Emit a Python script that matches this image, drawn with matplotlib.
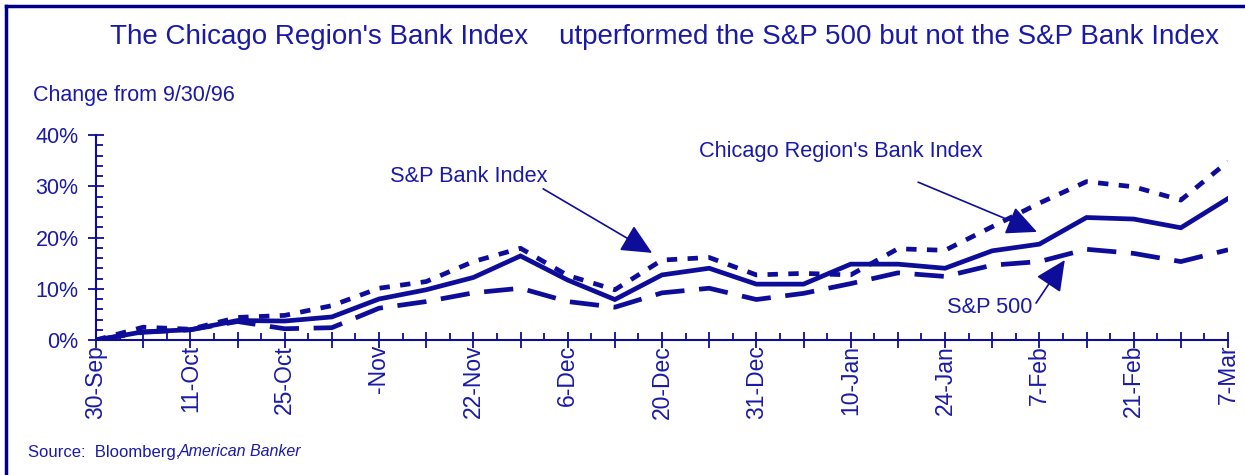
import numpy as np
import matplotlib.pyplot as plt
from matplotlib.ticker import FuncFormatter, MultipleLocator
from matplotlib.lines import Line2D

# weekly closes, change from 9/30/96 (percent)
dates = ['30-Sep', '', '11-Oct', '', '25-Oct', '', '-Nov', '', '22-Nov', '',
         '6-Dec', '', '20-Dec', '', '31-Dec', '', '10-Jan', '', '24-Jan', '',
         '7-Feb', '', '21-Feb', '', '7-Mar']
chicago = [0.0, 1.6, 2.0, 3.8, 3.7, 4.5, 8.0, 9.8, 12.2, 16.4, 11.7, 7.9, 12.7,
           14.0, 10.9, 10.9, 14.8, 14.8, 14.0, 17.4, 18.7, 23.9, 23.6, 21.9, 27.6]
sp_bank = [0.0, 2.5, 2.1, 4.4, 4.8, 6.7, 10.1, 11.4, 15.3, 17.9, 12.6, 9.8, 15.6,
           16.1, 12.7, 13.0, 12.7, 17.8, 17.5, 22.1, 26.7, 30.9, 29.9, 27.3, 34.8]
sp500 = [0.0, 1.5, 2.0, 3.6, 2.2, 2.4, 6.2, 7.5, 9.2, 10.1, 7.5, 6.4, 9.2,
         10.1, 7.9, 9.1, 11.0, 13.1, 12.4, 14.6, 15.3, 17.7, 16.9, 15.3, 17.6]

navy = '#0d0d99'
txt = '#1a1aa6'

plt.rcParams['font.family'] = ['Liberation Sans', 'DejaVu Sans']

fig = plt.figure(figsize=(12.45, 4.75), dpi=100)
ax = fig.add_axes([96 / 1245, 1 - 340 / 475, (1228 - 96) / 1245, 205 / 475])

x = np.arange(len(dates))
ax.plot(x, chicago, color=navy, lw=3.4, solid_joinstyle='miter')
ax.plot(x, sp_bank, color=navy, lw=3.4, dashes=(2.2, 2.2))
ax.plot(x, sp500, color=navy, lw=3.4, dashes=(6.2, 3.1))

ax.set_xlim(0, 24)
ax.set_ylim(0, 40)
ax.set_xticks(x)
ax.set_xticklabels(dates, rotation=90, fontsize=16.5, color=txt)
ax.xaxis.set_minor_locator(MultipleLocator(0.5))
ax.yaxis.set_major_locator(MultipleLocator(10))
ax.yaxis.set_minor_locator(MultipleLocator(2))
ax.yaxis.set_major_formatter(FuncFormatter(lambda v, p: f'{v:.0f}%'))
for lab in ax.get_yticklabels():
    lab.set_fontsize(15.5)
    lab.set_color(txt)

ax.tick_params(axis='x', which='major', direction='inout', length=11, width=1.3, color=navy, pad=-2)
ax.tick_params(axis='x', which='minor', direction='in', length=5, width=1.3, color=navy)
ax.tick_params(axis='y', which='major', direction='inout', length=11, width=1.3, color=navy, pad=7)
ax.tick_params(axis='y', which='minor', direction='in', length=5, width=1.3, color=navy)
for s in ['top', 'right']:
    ax.spines[s].set_visible(False)
for s in ['left', 'bottom']:
    ax.spines[s].set_color(navy)
    ax.spines[s].set_linewidth(1.5)
    ax.spines[s].set_clip_on(False)

# callout labels and their arrows
arrow = dict(arrowstyle='-|>,head_length=1.9,head_width=0.9', color=navy, lw=1.2,
             shrinkA=0, shrinkB=0)
ax.text(7.9, 32.0, 'S&P Bank Index', fontsize=15.7, color=txt, ha='center', va='center')
ax.annotate('', xy=(11.79, 17.0), xytext=(9.48, 29.5), arrowprops=arrow)
ax.text(15.8, 36.7, "Chicago Region's Bank Index", fontsize=15.7, color=txt,
        ha='center', va='center')
ax.annotate('', xy=(19.95, 21.1), xytext=(17.43, 30.8), arrowprops=arrow)
ax.text(18.95, 6.4, 'S&P 500', fontsize=15.7, color=txt, ha='center', va='center')
ax.annotate('', xy=(20.54, 15.6), xytext=(19.93, 7.2), arrowprops=arrow)

fig.text(110 / 1245, 1 - 37 / 475,
         "The Chicago Region's Bank Index    utperformed the S&P 500 but not the S&P Bank Index",
         fontsize=20, color=txt, ha='left', va='center')
fig.text(33 / 1245, 1 - 96 / 475, 'Change from 9/30/96', fontsize=15.5, color=txt,
         ha='left', va='center')
fig.text(28 / 1245, 1 - 452 / 475, 'Source:  Bloomberg,', fontsize=12, color=txt,
         ha='left', va='center')
fig.text(179 / 1245, 1 - 452 / 475, 'American Banker', fontsize=11.5, color=txt,
         style='italic', ha='left', va='center')

# frame on the top and left edges
fig.add_artist(Line2D([6 / 1245, 1.0], [1 - 6 / 475] * 2, transform=fig.transFigure,
                      color='#00008b', lw=2.5))
fig.add_artist(Line2D([6 / 1245] * 2, [0.0, 1 - 6 / 475], transform=fig.transFigure,
                      color='#00008b', lw=2.5))

fig.savefig('out.png', dpi=100)
